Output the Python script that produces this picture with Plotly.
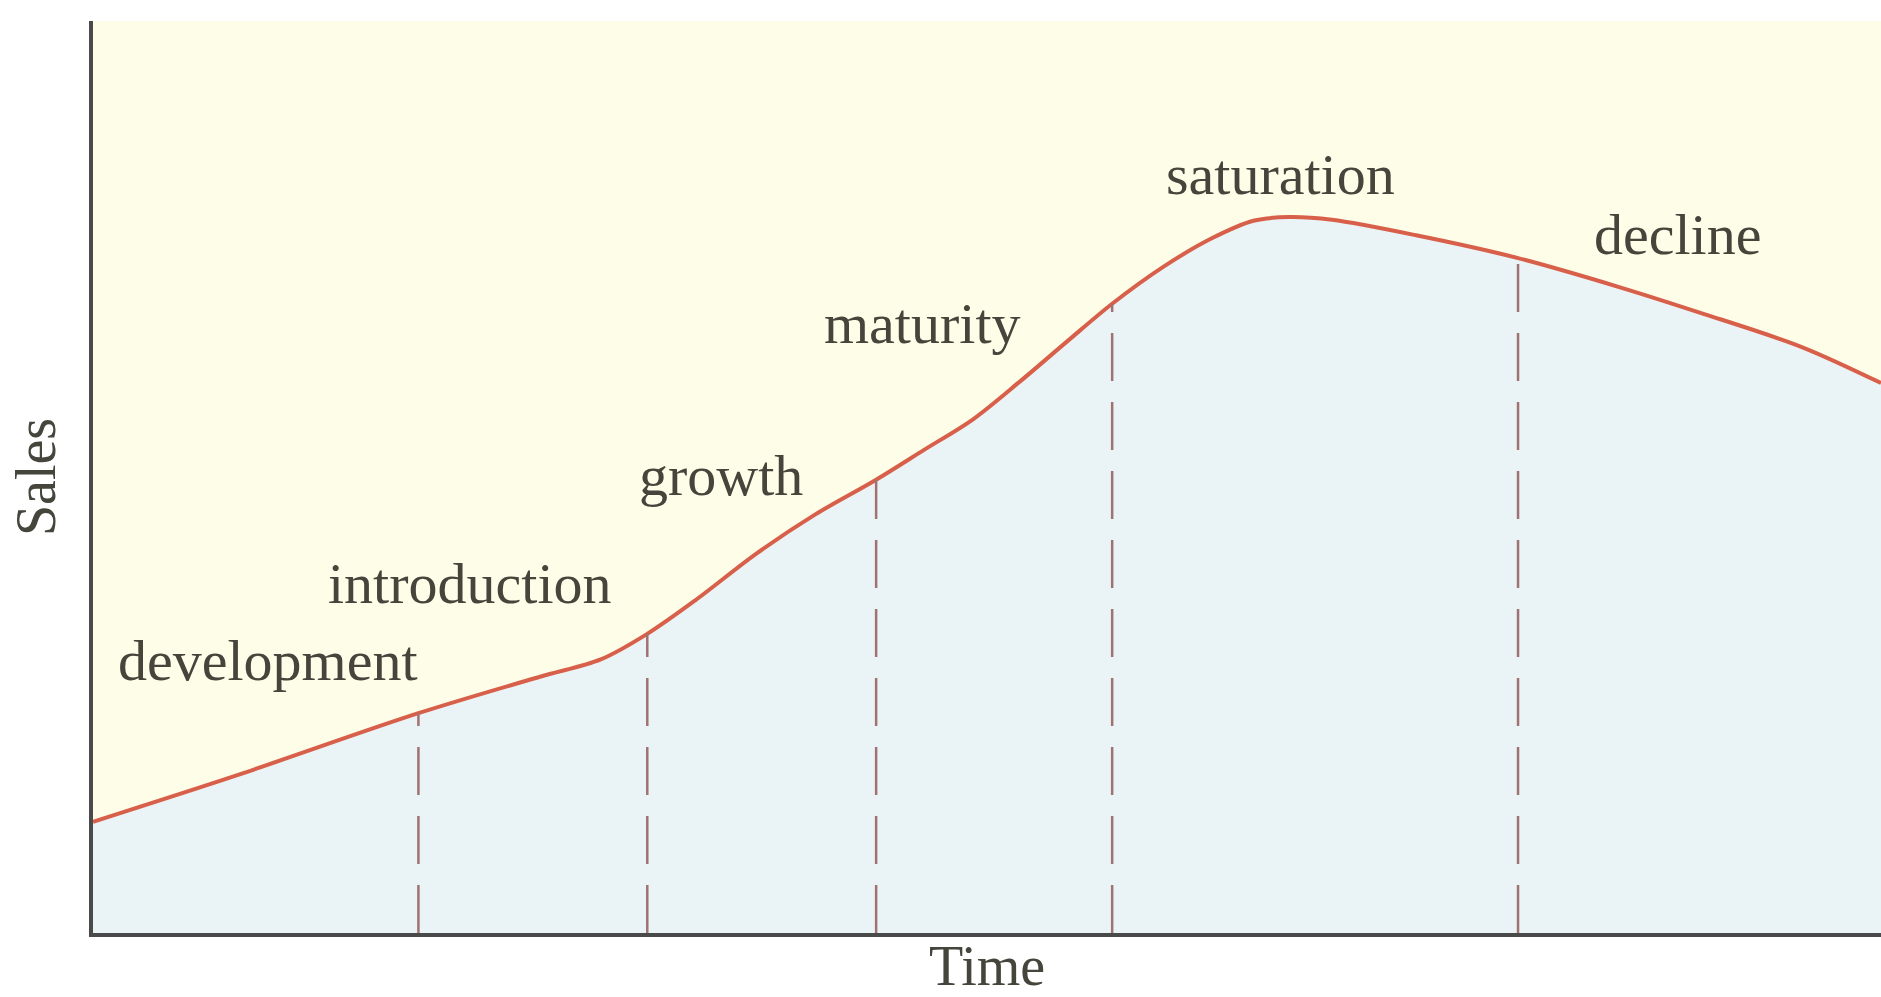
import numpy as np
import plotly.graph_objects as go

# Product life cycle: sales over time
time = [0, 8.2, 18.2, 25.0, 28.4, 31.0, 33.7, 37.1, 40.4, 43.8, 46.5, 49.2, 51.8,
        54.5, 57.0, 59.9, 62.6, 64.9, 66.9, 69.3, 74.0, 79.7, 85.4, 89.9, 95.5, 100]
sales = [12.2, 17.4, 24.1, 28.1, 30.0, 32.8, 36.5, 41.6, 45.9, 49.7, 53.0, 56.3, 60.4,
         64.9, 69.0, 73.1, 76.2, 78.1, 78.5, 78.2, 76.5, 74.0, 70.8, 68.0, 64.3, 60.3]

# Boundaries between stages
stage_bounds = [18.2, 31.0, 43.8, 57.0, 79.7]

# Stage names and where they are written
stages = ["development", "introduction", "growth", "maturity", "saturation", "decline"]
stage_x = [9.8, 21.1, 35.1, 46.4, 66.4, 88.6]
stage_y = [29.9, 38.3, 50.2, 66.8, 83.2, 76.6]

FONT = "Liberation Serif"
TEXT = "#45453c"
CURVE = "#d8604a"
DASH = "#a07272"
SIZE = 58

fig = go.Figure()

fig.add_trace(go.Scatter(
    x=time, y=sales, mode="lines",
    line=dict(color=CURVE, width=4, shape="spline", smoothing=0.9),
    fill="tozeroy", fillcolor="#eaf4f7",
    hoverinfo="skip", showlegend=False,
))

# Dashed stage dividers from the axis up to the curve
for xb in stage_bounds:
    top = float(np.interp(xb, time, sales))
    fig.add_trace(go.Scatter(
        x=[xb, xb], y=[0, top], mode="lines",
        line=dict(color=DASH, width=2.5, dash="48px,21px"),
        hoverinfo="skip", showlegend=False,
    ))

for name, sx, sy in zip(stages, stage_x, stage_y):
    fig.add_annotation(x=sx, y=sy, xref="x", yref="y", text=name, showarrow=False,
                       xanchor="center", yanchor="middle",
                       font=dict(family=FONT, size=SIZE, color=TEXT))

fig.update_layout(
    width=1881, height=997,
    margin=dict(l=93, r=0, t=21, b=64),
    paper_bgcolor="white",
    plot_bgcolor="#fdfde8",
    font=dict(family=FONT, size=SIZE, color=TEXT),
)
fig.update_xaxes(
    range=[0, 100], showgrid=False, zeroline=False, showticklabels=False, ticks="",
    showline=True, linecolor="#4a4a4a", linewidth=4,
    title=dict(text="Time", font=dict(family=FONT, size=56, color=TEXT), standoff=14),
)
fig.update_yaxes(
    range=[0, 100], showgrid=False, zeroline=False, showticklabels=False, ticks="",
    showline=True, linecolor="#4a4a4a", linewidth=4,
    title=dict(text="Sales", font=dict(family=FONT, size=56, color=TEXT), standoff=16),
)

fig.write_html("out.html")
